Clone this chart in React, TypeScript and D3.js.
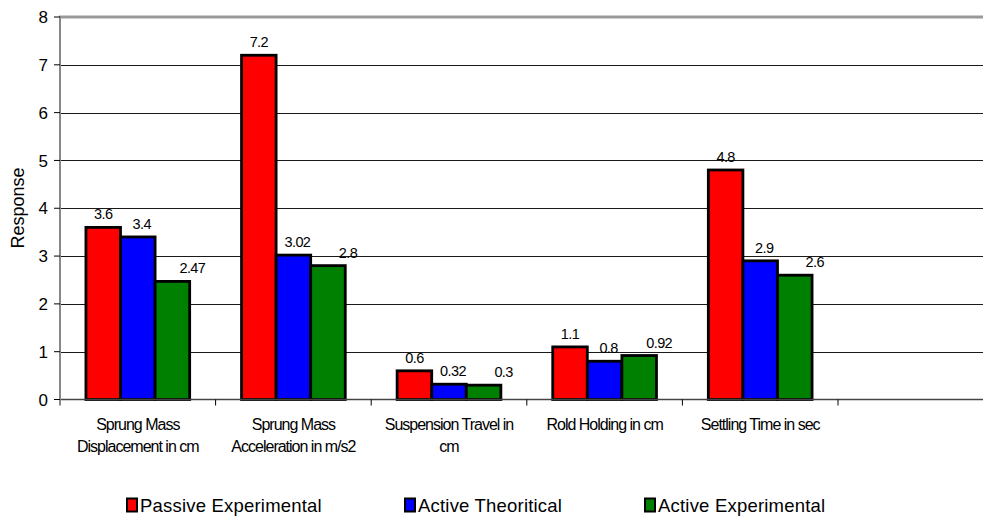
import React from "react";
import * as d3 from "d3";

const categories = [
  "Sprung Mass Displacement in cm",
  "Sprung Mass Acceleration in m/s2",
  "Suspension Travel in cm",
  "Rold Holding in cm",
  "Settling Time in sec",
  "",
];
const categoryLines = [
  ["Sprung Mass", "Displacement in cm"],
  ["Sprung Mass", "Acceleration in m/s2"],
  ["Suspension Travel in", "cm"],
  ["Rold Holding in cm"],
  ["Settling Time in sec"],
  [],
];
const seriesNames = ["Passive Experimental", "Active Theoritical", "Active Experimental"];
const passiveExperimental = [3.6, 7.2, 0.6, 1.1, 4.8];
const activeTheoretical = [3.4, 3.02, 0.32, 0.8, 2.9];
const activeExperimental = [2.47, 2.8, 0.3, 0.92, 2.6];
const seriesValues = [passiveExperimental, activeTheoretical, activeExperimental];
const yTicks = [0, 1, 2, 3, 4, 5, 6, 7, 8];

const colors = ["#FF0000", "#0000FF", "#008000"];
const labelDx = [0, 4, 20];
const legendX = [127, 405, 645];
const FONT = "'Liberation Sans', Arial, sans-serif";

export default function App() {
  const W = 983;
  const H = 517;
  const left = 60;
  const slot = 155.6;
  const x = d3
    .scaleBand<string>()
    .domain(categories.map((c, i) => String(i)))
    .range([left, left + slot * categories.length])
    .paddingInner(0)
    .paddingOuter(0);
  const y = d3.scaleLinear().domain([0, 8]).range([399.5, 17]);
  const barW = x.bandwidth() / 4.5;
  const groupOffset = (x.bandwidth() - barW * 3) / 2;
  const fmt = (v: number) => String(v);

  return (
    <div style={{ position: "absolute", left: 0, top: 0 }}>
      <svg width={W} height={H} style={{ display: "block", fontFamily: FONT }}>
        <rect x={0} y={0} width={W} height={H} fill="#fff" />
        {/* gridlines */}
        {yTicks.slice(1, -1).map((t) => (
          <line key={t} x1={left} x2={W} y1={Math.round(y(t)) + 0.5} y2={Math.round(y(t)) + 0.5} stroke="#1a1a1a" strokeWidth={1} />
        ))}
        {/* top border */}
        <line x1={left - 1} x2={W} y1={y(8)} y2={y(8)} stroke="#999" strokeWidth={3} />
        {/* bars */}
        {seriesValues.map((vals, s) =>
          vals.map((v, i) => {
            const bx = (x(String(i)) as number) + groupOffset + s * barW;
            return (
              <rect
                key={`${s}-${i}`}
                x={bx}
                y={y(v)}
                width={barW}
                height={y(0) - y(v)}
                fill={colors[s]}
                stroke="#000"
                strokeWidth={2.8}
              />
            );
          })
        )}
        {/* value labels */}
        {seriesValues.map((vals, s) =>
          vals.map((v, i) => {
            const bx = (x(String(i)) as number) + groupOffset + s * barW + barW / 2 + labelDx[s];
            return (
              <text
                key={`l${s}-${i}`}
                x={bx}
                y={y(v) - 8}
                textAnchor="middle"
                fontSize={14.5}
                letterSpacing={-0.6}
                fill="#000"
              >
                {fmt(v)}
              </text>
            );
          })
        )}
        {/* x axis */}
        <line x1={left} x2={W} y1={y(0)} y2={y(0)} stroke="#444" strokeWidth={1.5} />
        {categories.map((c, i) => {
          const tx = (x(String(i)) as number) + x.bandwidth();
          return <line key={`t${i}`} x1={tx} x2={tx} y1={y(0)} y2={y(0) + 6} stroke="#000" strokeWidth={1} />;
        })}
        {categoryLines.map((lines, i) => {
          const cx = (x(String(i)) as number) + x.bandwidth() / 2;
          return (
            <text key={`c${i}`} x={cx} y={430} textAnchor="middle" fontSize={16} letterSpacing={-1} fill="#000">
              {lines.map((ln, j) => (
                <tspan key={j} x={cx} dy={j === 0 ? 0 : 22}>
                  {ln}
                </tspan>
              ))}
            </text>
          );
        })}
        {/* y axis */}
        <line x1={left} x2={left} y1={y(8) - 1} y2={y(0) + 6} stroke="#888" strokeWidth={2} />
        {yTicks.map((t) => (
          <g key={`y${t}`}>
            <line x1={left - 6} x2={left} y1={y(t)} y2={y(t)} stroke="#000" strokeWidth={1} />
            <text x={48} y={y(t)} dy="0.36em" textAnchor="end" fontSize={17} fill="#000">
              {t}
            </text>
          </g>
        ))}
        <text
          transform={`translate(24, ${208}) rotate(-90)`}
          textAnchor="middle"
          fontSize={18}
          fill="#000"
        >
          Response
        </text>
        {/* legend */}
        {seriesNames.map((n, s) => (
          <g key={`lg${s}`}>
            <rect x={legendX[s]} y={498.5} width={10} height={13} fill={colors[s]} stroke="#000" strokeWidth={2} />
            <text x={legendX[s] + 13} y={512} fontSize={18.5} letterSpacing={0.2} fill="#000">
              {n}
            </text>
          </g>
        ))}
      </svg>
    </div>
  );
}
